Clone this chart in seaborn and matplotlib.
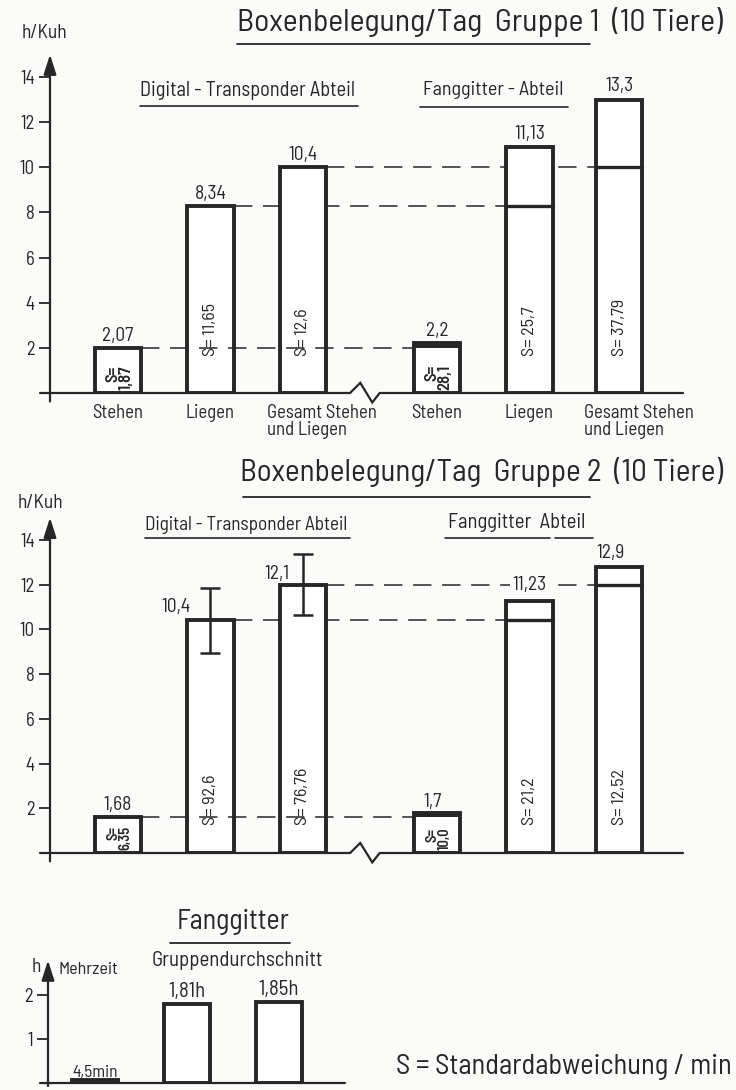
import numpy as np
import pandas as pd
import matplotlib
matplotlib.use("Agg")
import matplotlib.pyplot as plt
from matplotlib.lines import Line2D
import seaborn as sns

# ---------------- data ----------------
categories = ["Stehen", "Liegen", "Gesamt Stehen\nund Liegen"]
section_digital = "Digital - Transponder Abteil"
section_fang_1 = "Fanggitter - Abteil"
section_fang_2 = "Fanggitter  Abteil"

# Gruppe 1 (h/Kuh, bar heights as drawn)
g1_digital = [2.0, 8.27, 10.0]
g1_fang = [2.2, 10.9, 13.0]
g1_digital_labels = ["2,07", "8,34", "10,4"]
g1_fang_labels = ["2,2", "11,13", "13,3"]
g1_digital_s = ["1,87", "11,65", "12,6"]
g1_fang_s = ["28,1", "25,7", "37,79"]

# Gruppe 2
g2_digital = [1.6, 10.4, 12.0]
g2_fang = [1.8, 11.25, 12.8]
g2_digital_labels = ["1,68", "10,4", "12,1"]
g2_fang_labels = ["1,7", "11,23", "12,9"]
g2_digital_s = ["6,35", "92,6", "76,76"]
g2_fang_s = ["10,0", "21,2", "12,52"]
g2_digital_err = [0.0, 1.45, 1.35]

# Fanggitter Mehrzeit (h)
mehr_values = [0.075, 1.81, 1.85]
mehr_labels = ["4,5min", "1,81h", "1,85h"]

yticks_main = [2, 4, 6, 8, 10, 12, 14]
yticks_small = [1, 2]

# ---------------- style ----------------
sns.set_style("white")
plt.rcParams["font.family"] = ["Barlow Semi Condensed", "Barlow Condensed",
                               "Roboto Condensed", "PT Sans Narrow",
                               "Archivo Narrow", "DejaVu Sans"]
ink = "#262626"
bg = "#fbfbfa"
plt.rcParams["text.color"] = ink

W, H = 736, 1090
fig = plt.figure(figsize=(W / 100, H / 100), dpi=100, facecolor=bg)
renderer = fig.canvas.get_renderer()


def fx(px):
    return px / W


def fy(py):
    return 1 - py / H


def add_axes_px(left, top, right, bottom):
    ax = fig.add_axes([fx(left), fy(bottom), (right - left) / W, (bottom - top) / H])
    ax.set_facecolor("none")
    return ax


def fig_line(x0, x1, y, lw=1.2):
    fig.add_artist(Line2D([fx(x0), fx(x1)], [fy(y), fy(y)], transform=fig.transFigure,
                          color=ink, lw=lw))


def fit_text(x0, x1, y, s, size, ha="left"):
    """Figure text scaled so that its width spans pixel x0..x1."""
    x = x0 if ha == "left" else (x0 + x1) / 2
    t = fig.text(fx(x), fy(y), s, ha=ha, va="center", fontsize=size)
    w = t.get_window_extent(renderer).width
    if w > 0:
        t.set_fontsize(size * (x1 - x0) / w)
    return t


pos = np.array([0, 1, 2, 3.45, 4.45, 5.42])
bar_w = 0.5
brk = 2.67


def axis_frame(ax, xmin_line, xmax_line, ytop, yticks, with_break=True):
    for s in ax.spines.values():
        s.set_visible(False)
    x0 = ax.get_xlim()[0]
    if with_break:
        xs = [xmin_line, brk - 0.16, brk - 0.05, brk + 0.08, brk + 0.16, xmax_line]
        amp = ytop / 15.0
        ys = [0, 0, 0.45 * amp, -0.42 * amp, 0, 0]
    else:
        xs = [xmin_line, xmax_line]
        ys = [0, 0]
    ax.plot(xs, ys, color=ink, lw=1.6, clip_on=False, zorder=5, solid_joinstyle="miter")
    ax.annotate("", xy=(x0, ytop), xytext=(x0, -0.025 * ytop), xycoords="data",
                arrowprops=dict(arrowstyle="-|>,head_length=1.0,head_width=0.32",
                                mutation_scale=12, lw=1.6, color=ink,
                                shrinkA=0, shrinkB=0), annotation_clip=False)
    ax.set_yticks(yticks)
    ax.set_yticklabels([str(t) for t in yticks])
    ax.tick_params(axis="y", direction="out", length=8, width=1.3, pad=3,
                   labelsize=13.5, colors=ink, left=True)
    ax.set_xticks([])
    ax.set_xlabel("")
    ax.set_ylabel("")


def group_panel(ax, dig, fang, dig_lab, fang_lab, dig_s, fang_s, s_dy, lab_dx, lab_dy,
                small_size):
    heights = list(dig) + list(fang)
    df = pd.DataFrame({"pos": pos, "h": heights})
    sns.barplot(data=df, x="pos", y="h", native_scale=True,
                width=bar_w / np.min(np.diff(pos)), color="white", saturation=1,
                edgecolor=ink, linewidth=2.8, errorbar=None, ax=ax, zorder=2)
    ax.set_xlim(-0.735, 6.11)
    ax.set_ylim(0, 15)
    for i in range(3):
        xa = pos[i] + bar_w / 2
        xb = pos[i + 3] - bar_w / 2
        ax.plot([xa, xb], [dig[i], dig[i]], color=ink, lw=1.1,
                linestyle=(0, (12, 7)), zorder=3.5 if i == 0 else 1)
        if i == 0:
            ax.fill_between([pos[3] - bar_w / 2, pos[3] + bar_w / 2], dig[0], fang[0],
                            color=ink, zorder=3, lw=0)
        else:
            ax.plot([pos[i + 3] - bar_w / 2, pos[i + 3] + bar_w / 2], [dig[i], dig[i]],
                    color=ink, lw=2.4, zorder=3)
    labels = list(dig_lab) + list(fang_lab)
    for k in range(6):
        ax.annotate(labels[k], (pos[k], heights[k]), xytext=(lab_dx[k], lab_dy[k]),
                    textcoords="offset points", ha="center", va="baseline",
                    fontsize=14, zorder=6)
    s_all = list(dig_s) + list(fang_s)
    for k in range(6):
        if k % 3 == 0:
            ax.annotate("S=\n" + s_all[k], (pos[k], 0), xytext=(1, 2),
                        textcoords="offset points", ha="center", va="bottom",
                        rotation=90, fontsize=small_size, linespacing=0.85,
                        multialignment="right", fontweight="semibold", zorder=6)
        else:
            ax.annotate("S= " + s_all[k], (pos[k], 0), xytext=(0, s_dy),
                        textcoords="offset points", ha="center", va="bottom",
                        rotation=90, fontsize=13, zorder=6)


# ---------------- panel 1 ----------------
ax1 = add_axes_px(50, 54.5, 683, 393)
group_panel(ax1, g1_digital, g1_fang, g1_digital_labels, g1_fang_labels,
            g1_digital_s, g1_fang_s, s_dy=27,
            lab_dx=[0, 0, 0, 0, 0, 0], lab_dy=[5, 5, 5, 5, 6, 6], small_size=12)
axis_frame(ax1, -0.843, 6.11, 15, yticks_main)
for k in range(6):
    name = categories[k % 3]
    if k % 3 == 2:
        ax1.annotate(name, (pos[k] - bar_w / 2, 0), xytext=(-9, -8), textcoords="offset points",
                     ha="left", va="top", fontsize=13.5, linespacing=0.95)
    else:
        ax1.annotate(name, (pos[k], 0), xytext=(0, -8), textcoords="offset points",
                     ha="center", va="top", fontsize=13.5)

fig.text(fx(22), fy(33), "h/Kuh", ha="left", va="center", fontsize=14)
fit_text(237, 722, 22, "Boxenbelegung/Tag  Gruppe 1  (10 Tiere)", 22)
fig_line(237, 590, 44, lw=1.3)
fit_text(140, 355, 90, section_digital, 13)
fig_line(140, 358, 106)
fit_text(423, 563, 90, section_fang_1, 13)
fig_line(420, 568, 107)

# ---------------- panel 2 ----------------
ax2 = add_axes_px(50, 517.6, 683, 853)
group_panel(ax2, g2_digital, g2_fang, g2_digital_labels, g2_fang_labels,
            g2_digital_s, g2_fang_s, s_dy=20,
            lab_dx=[0, -25, -19, -3, 0, -6], lab_dy=[5, 6, 4, 4, 0, 6], small_size=10.5)
for t in list(ax2.texts):
    if t.get_text() == g2_fang_labels[1]:
        t.remove()
ax2.annotate(g2_fang_labels[1], (pos[4], g2_digital[2]), ha="center", va="center",
             fontsize=14, zorder=6,
             bbox=dict(boxstyle="square,pad=0.12", fc=bg, ec="none"))
ax2.errorbar(pos[1:3], g2_digital[1:3], yerr=g2_digital_err[1:3], fmt="none",
             ecolor=ink, elinewidth=1.8, capsize=7, capthick=1.8, zorder=4)
axis_frame(ax2, -0.843, 6.11, 15, yticks_main)

fig.text(fx(18), fy(503), "h/Kuh", ha="left", va="center", fontsize=14)
fit_text(240, 722, 472, "Boxenbelegung/Tag  Gruppe 2  (10 Tiere)", 22)
fig_line(243, 590, 497, lw=1.3)
fit_text(145, 348, 525, section_digital, 13)
fig_line(145, 350, 538)
fit_text(448, 585, 522, section_fang_2, 13)
fig_line(445, 550, 538)
fig_line(555, 593, 538)

# ---------------- panel 3 ----------------
ax3 = add_axes_px(48, 960.4, 345, 1083)
df3 = pd.DataFrame({"pos": [0, 1, 2], "h": mehr_values})
sns.barplot(data=df3, x="pos", y="h", native_scale=True, width=0.5, color="white",
            saturation=1, edgecolor=ink, linewidth=2.8, errorbar=None, ax=ax3, zorder=2)
ax3.patches[0].set_facecolor(ink)
ax3.set_xlim(-0.511, 2.717)
ax3.set_ylim(0, 2.8)
axis_frame(ax3, -0.6, 2.717, 2.8, yticks_small, with_break=False)
for k in range(3):
    ax3.annotate(mehr_labels[k], (k, mehr_values[k]), xytext=(0, 2 if k == 0 else 5),
                 textcoords="offset points", ha="center", va="baseline",
                 fontsize=15 if k else 12.5, zorder=6)

fit_text(177, 290, 922, "Fanggitter", 20, ha="center")
fig_line(170, 290, 943, lw=1.3)
fit_text(152, 322, 960, "Gruppendurchschnitt", 13, ha="center")
fig.text(fx(32), fy(967), "h", ha="left", va="center", fontsize=14)
fig.text(fx(58), fy(970), "Mehrzeit", ha="left", va="center", fontsize=13)
fit_text(396, 731, 1067, "S = Standardabweichung / min", 21)

fig.savefig("out.png", dpi=100, facecolor=bg)
